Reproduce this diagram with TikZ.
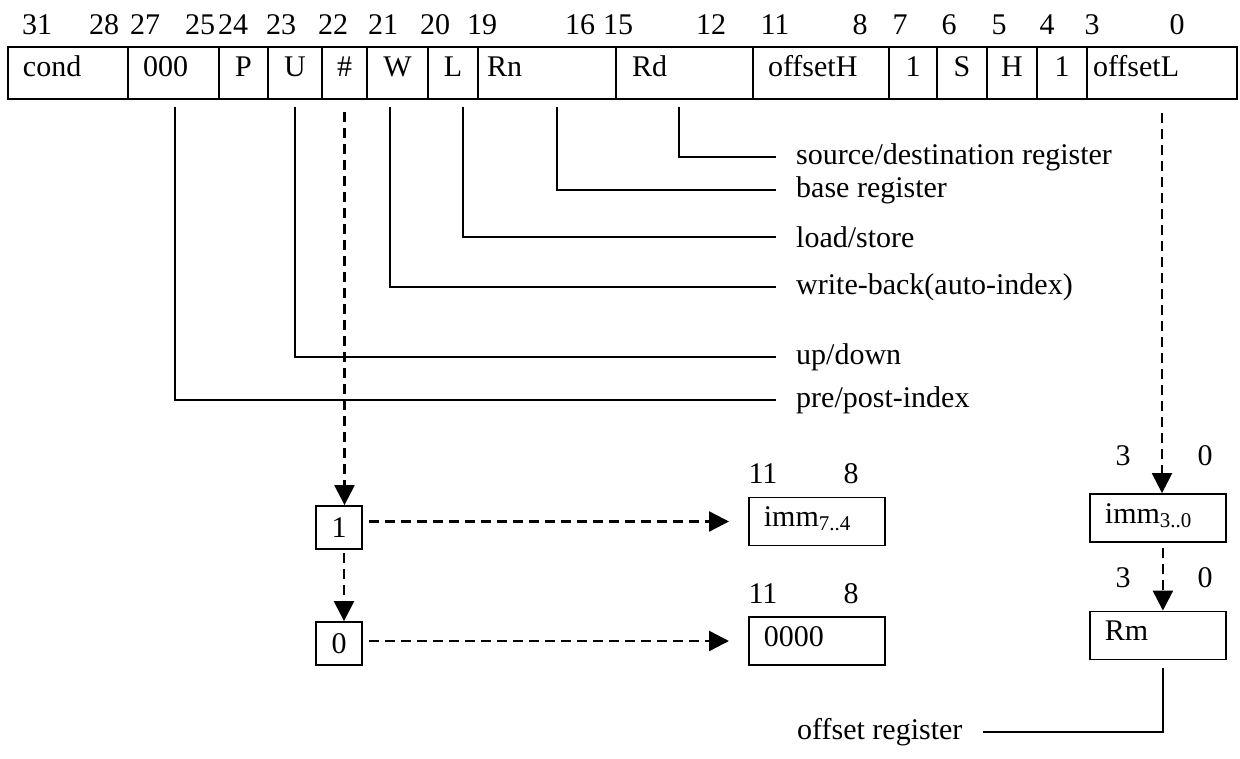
\documentclass[tikz,border=0pt]{standalone}
\usepackage{fontspec}
\setmainfont{Liberation Serif}
\usetikzlibrary{arrows.meta,positioning}

% index written below the line, as in imm_{7..4}
\newcommand{\lowidx}[1]{\raisebox{-4pt}{\fontsize{21}{24}\selectfont #1}}

\begin{document}
\begin{tikzpicture}[
    x=1pt, y=-1pt,
    every node/.style={font=\fontsize{30}{36}\selectfont},
    field/.style={draw, line width=1.8pt, outer sep=0pt, minimum height=52pt, inner sep=0pt, text height=20pt, text depth=12pt},
    cfield/.style={field, minimum width=#1},
    lfield/.style 2 args={field, text width=#1, inner xsep=#2, align=left},
    bitno/.style={anchor=base, inner sep=0pt},
    note/.style={anchor=west, inner xsep=20pt, inner ysep=0pt},
    conn/.style={line width=1.8pt, shorten <=8pt},
    dasharrow/.style={line width=2.4pt, dash pattern=on 10pt off 6pt, -{Triangle[length=20pt,width=20pt]}},
    bitbox/.style={draw, line width=1.8pt, minimum width=46pt, minimum height=43pt, inner sep=0pt},
    regbox/.style={draw, line width=1.8pt, text width=106pt, inner xsep=15pt, inner ysep=0pt, minimum height=48pt, text height=20pt, text depth=10pt, align=left},
]
    \useasboundingbox (0,0) rectangle (1240,759);

    % instruction word
    \node[lfield={90pt}{15pt}, anchor=west] (cond) at (8,73) {cond};
    \node[lfield={61pt}{15pt}, right=0pt of cond] (zeros) {000};
    \node[cfield=49pt, right=0pt of zeros] (pbit) {P};
    \node[cfield=54pt, right=0pt of pbit] (ubit) {U};
    \node[cfield=45pt, right=0pt of ubit] (hash) {\#};
    \node[cfield=61pt, right=0pt of hash] (wbit) {W};
    \node[cfield=50pt, right=0pt of wbit] (lbit) {L};
    \node[lfield={120pt}{9pt}, right=0pt of lbit] (rn) {Rn};
    \node[lfield={105pt}{16pt}, right=0pt of rn] (rd) {Rd};
    \node[lfield={106pt}{15pt}, right=0pt of rd] (offH) {offsetH};
    \node[cfield=48pt, right=0pt of offH] (onea) {1};
    \node[cfield=50pt, right=0pt of onea] (sbit) {S};
    \node[cfield=50pt, right=0pt of sbit] (hbit) {H};
    \node[cfield=50pt, right=0pt of hbit] (oneb) {1};
    \node[lfield={138pt}{6pt}, right=0pt of oneb] (offL) {offsetL};

    % bit numbers
    \foreach \x/\b in {37/31, 104/28, 145/27, 200/25, 233/24, 281/23, 333/22, 383/21, 435/20, 482/19,
                       580/16, 618/15, 711/12, 775/11, 860/8, 900/7, 949/6, 999/5, 1047/4, 1092/3, 1177/0}
        \node[bitno] (bit\b) at (\x,35) {\b};

    % field descriptions
    \node[note] (lsrc) at (776,157) {source/destination register};
    \node[note] (lbase) at (776,190) {base register};
    \node[note] (lls) at (776,237) {load/store};
    \node[note] (lwb) at (776,287) {write-back(auto-index)};
    \node[note] (lud) at (776,357) {up/down};
    \node[note] (lpp) at (776,400) {pre/post-index};

    \draw[conn] ([xshift=-5.5pt]rd.south) |- (lsrc);
    \draw[conn] ([xshift=10pt]rn.south) |- (lbase);
    \draw[conn] ([xshift=10pt]lbit.south) |- (lls);
    \draw[conn] ([xshift=-7.5pt]wbit.south) |- (lwb);
    \draw[conn] (ubit.south) |- (lud);
    \draw[conn] ([xshift=1.5pt]zeros.south) |- (lpp);

    % immediate offset
    \node[bitbox] (one) at (339,527.5) {1};
    \node[bitbox] (zero) at (339,643.5) {0};
    \node[regbox, anchor=west] (imm74) at (748,521.5) {imm\lowidx{7..4}};
    \node[regbox, anchor=west] (d0000) at (748,641) {0000};
    \node[bitno] (i11) at (763,483) {11};
    \node[bitno] (i8) at (851,483) {8};
    \node[bitno] (z11) at (763,603) {11};
    \node[bitno] (z8) at (851,603) {8};

    \draw[dasharrow, shorten <=13pt] (hash.south) -- (hash.south |- one.north);
    \draw[dasharrow, shorten <=3pt] ([xshift=5pt]one.south) -- ([xshift=5pt]zero.north);
    \draw[dasharrow, shorten <=6pt, shorten >=19pt] (one.east |- imm74.west) -- (imm74.west);
    \draw[dasharrow, shorten <=6pt, shorten >=19pt] (zero.east |- d0000.west) -- (d0000.west);

    % low offset / register
    \node[regbox, anchor=west] (imm30) at (1089,518) {imm\lowidx{3..0}};
    \node[regbox, anchor=west] (rm) at (1089,635.5) {Rm};
    \node[bitno] (m3) at (1123,465) {3};
    \node[bitno] (m0) at (1205,465) {0};
    \node[bitno] (r3) at (1123,587) {3};
    \node[bitno] (r0) at (1205,587) {0};
    \node[note] (lreg) at (777,732) {offset register};

    \draw[dasharrow, shorten <=14pt] (offL.south) -- (offL.south |- imm30.north);
    \draw[dasharrow, shorten <=5pt] ([xshift=5pt]imm30.south) -- ([xshift=5pt]rm.north);
    \draw[conn] ([xshift=5pt]rm.south) |- (lreg);
\end{tikzpicture}
\end{document}
